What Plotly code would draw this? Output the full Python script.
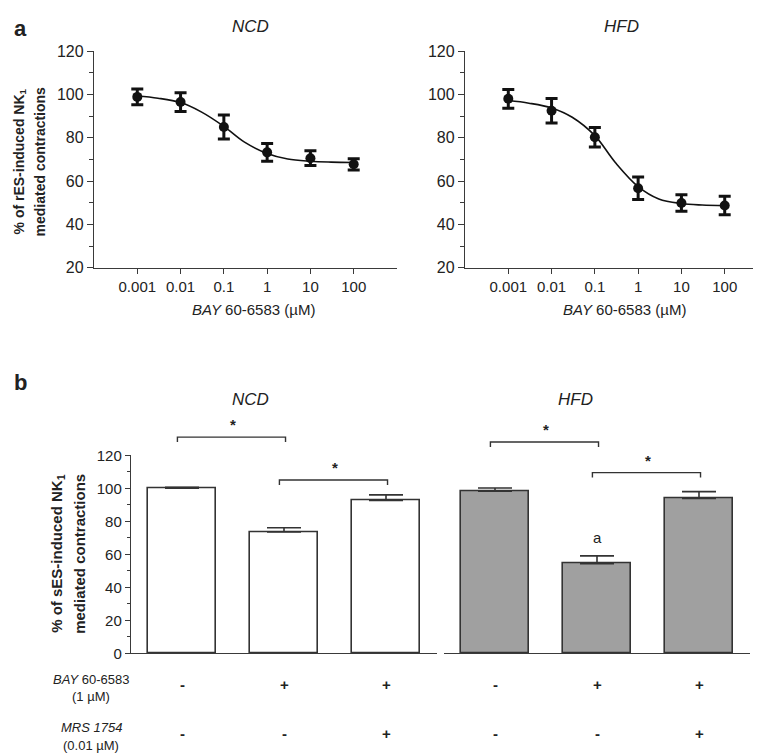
import plotly.graph_objects as go

W, H = 761, 753
FONT = "Liberation Sans, Arial, sans-serif"
TXT = "#222222"
AX = "#3a3a3a"

# ---------------- data ----------------
conc = [0.001, 0.01, 0.1, 1, 10, 100]
conc_labels = ["0.001", "0.01", "0.1", "1", "10", "100"]

ncd_mean = [98.9, 96.5, 85.0, 73.3, 70.6, 67.8]
ncd_err = [3.6, 4.3, 5.5, 4.1, 3.4, 2.6]
hfd_mean = [98.0, 92.5, 80.3, 56.7, 49.9, 48.8]
hfd_err = [4.3, 5.6, 4.5, 5.2, 3.8, 4.3]

# fitted curves
curve_x = [0.001, 0.003, 0.01, 0.03, 0.1, 0.3, 1, 3, 10, 30, 100]
ncd_curve = [99.3, 98.3, 96.3, 92.0, 85.3, 78.0, 72.8, 70.2, 69.2, 68.8, 68.6]
hfd_curve = [97.2, 96.0, 93.8, 89.5, 81.0, 68.5, 57.5, 51.8, 49.7, 49.0, 48.7]

groups = ["-/-", "+/-", "+/+"]
bar_ncd = [100.0, 73.5, 92.6]
bar_ncd_err = [0.6, 2.6, 3.4]
bar_hfd = [98.2, 54.3, 93.8]
bar_hfd_err = [2.0, 4.8, 4.2]
bay_signs = ["-", "+", "+"]
mrs_signs = ["-", "-", "+"]

# ---------------- helpers ----------------
def px_x(a, b):
    return [a / W, b / W]

def px_y(top, bottom):
    return [(H - bottom) / H, (H - top) / H]

fig = go.Figure()

# top panels
for i, (m, e, cy) in enumerate([(ncd_mean, ncd_err, ncd_curve), (hfd_mean, hfd_err, hfd_curve)]):
    xa = "x" if i == 0 else "x2"
    ya = "y" if i == 0 else "y2"
    fig.add_trace(go.Scatter(x=curve_x, y=cy, mode="lines", line=dict(color="#111111", width=1.6, shape="spline"),
                             xaxis=xa, yaxis=ya, showlegend=False, hoverinfo="skip"))
    fig.add_trace(go.Scatter(x=conc, y=m, mode="markers",
                             marker=dict(color="#111111", size=10),
                             error_y=dict(type="data", array=e, color="#111111", thickness=3, width=6),
                             xaxis=xa, yaxis=ya, showlegend=False))

# bottom panels
bx = [0, 1, 2]
fig.add_trace(go.Bar(x=bx, y=bar_ncd, width=0.66, marker=dict(color="white", line=dict(color="#333333", width=1.6)),
                     error_y=dict(type="data", symmetric=False, array=bar_ncd_err, arrayminus=[0, 0, 0],
                                  color="#333333", thickness=1.6, width=17),
                     xaxis="x3", yaxis="y3", showlegend=False))
fig.add_trace(go.Bar(x=bx, y=bar_hfd, width=0.66, marker=dict(color="#a0a0a0", line=dict(color="#333333", width=1.6)),
                     error_y=dict(type="data", symmetric=False, array=bar_hfd_err, arrayminus=[0, 0, 0],
                                  color="#333333", thickness=1.6, width=17),
                     xaxis="x4", yaxis="y4", showlegend=False))

tickfont = dict(family=FONT, size=16, color=TXT)
ylin = dict(range=[20, 120], tickvals=[20, 40, 60, 80, 100, 120], ticks="outside", ticklen=6, tickwidth=1.3,
            tickcolor=AX, showline=True, linecolor=AX, linewidth=1.4, showgrid=False, zeroline=False,
            tickfont=tickfont, minor=dict(tickvals=[30, 50, 70, 90, 110], ticks="outside", ticklen=4, tickcolor=AX))
xlog = dict(type="log", tickvals=conc, ticktext=conc_labels, ticks="outside", ticklen=5, tickwidth=1.3,
            tickcolor=AX, showline=True, linecolor=AX, linewidth=1.4, showgrid=False, zeroline=False,
            tickfont=dict(family=FONT, size=15, color=TXT))

top_y = px_y(35, 257)
bot_y = px_y(449, 652)

fig.update_layout(
    width=W, height=H, margin=dict(l=0, r=0, t=0, b=0),
    paper_bgcolor="white", plot_bgcolor="white",
    font=dict(family=FONT, color=TXT),
    xaxis=dict(xlog, domain=px_x(86, 389), range=[-4.0, 3.0], anchor="y"),
    yaxis=dict(ylin, domain=top_y, anchor="x"),
    xaxis2=dict(xlog, domain=px_x(457, 760), range=[-4.0, 3.0], anchor="y2"),
    yaxis2=dict(ylin, domain=top_y, anchor="x2"),
    xaxis3=dict(domain=px_x(123, 429), range=[-0.5, 2.5], showticklabels=False, ticks="", showline=True,
                linecolor=AX, linewidth=1.4, showgrid=False, zeroline=False, anchor="y3"),
    yaxis3=dict(domain=bot_y, range=[0, 120], tickvals=[0, 20, 40, 60, 80, 100, 120], ticks="outside", ticklen=5,
                tickwidth=1.3, tickcolor=AX, showline=True, linecolor=AX, linewidth=1.4, showgrid=False,
                zeroline=False, tickfont=dict(family=FONT, size=15, color=TXT), anchor="x3",
                minor=dict(tickvals=[10, 30, 50, 70, 90, 110], ticks="outside", ticklen=3, tickcolor=AX)),
    xaxis4=dict(domain=px_x(436, 742), range=[-0.5, 2.5], showticklabels=False, ticks="", showline=True,
                linecolor=AX, linewidth=1.4, showgrid=False, zeroline=False, anchor="y4"),
    yaxis4=dict(domain=bot_y, range=[0, 120], showticklabels=False, ticks="", showline=False, showgrid=False,
                zeroline=False, anchor="x4"),
    bargap=0,
)

ann = []
def A(text, x, y, size=15, xref="paper", yref="paper", bold=False, italic=False, angle=0, xanchor="center", yanchor="middle"):
    t = text
    if bold:
        t = "<b>" + t + "</b>"
    if italic:
        t = "<i>" + t + "</i>"
    ann.append(dict(text=t, x=x, y=y, xref=xref, yref=yref, showarrow=False, textangle=angle,
                    font=dict(family=FONT, size=size, color=TXT), xanchor=xanchor, yanchor=yanchor))

def P(xp, yp):
    return xp / W, (H - yp) / H

# panel letters and titles
A("a", *P(4, 12), size=22, bold=True, xanchor="left")
A("b", *P(4, 374), size=22, bold=True, xanchor="left")
A("NCD", *P(243, 10), size=17, italic=True)
A("HFD", *P(613, 10), size=17, italic=True)
A("NCD", *P(243, 392), size=17, italic=True)
A("HFD", *P(567, 392), size=17, italic=True)

# x-axis titles (top)
A("<i>BAY</i> 60-6583 (µM)", *P(245, 300), size=15)
A("<i>BAY</i> 60-6583 (µM)", *P(616, 300), size=15)

# y-axis titles
A("% of rES-induced NK<sub>1</sub>", *P(12, 148), size=14, bold=True, angle=-90)
A("mediated contractions", *P(32, 148), size=14, bold=True, angle=-90)
A("% of sES-induced NK<sub>1</sub>", *P(50, 550), size=15, bold=True, angle=-90)
A("mediated contractions", *P(72, 550), size=15, bold=True, angle=-90)

# treatment rows
A("<i>BAY</i> 60-6583", *P(83, 679), size=13)
A("(1 µM)", *P(83, 696), size=13)
A("<i>MRS 1754</i>", *P(83, 728), size=13)
A("(0.01 µM)", *P(83, 746), size=13)
for xa in ["x3", "x4"]:
    for i in range(3):
        A("<b>" + bay_signs[i] + "</b>", bx[i], (H - 684) / H, size=15, xref=xa)
        A("<b>" + mrs_signs[i] + "</b>", bx[i], (H - 734) / H, size=15, xref=xa)

# significance brackets: (x axis, y axis, from, to, level)
brackets = [("x3", "y3", 0, 1, 131), ("x3", "y3", 1, 2, 105), ("x4", "y4", 0, 1, 128), ("x4", "y4", 1, 2, 109.5)]
shapes = []
for xa, ya, i0, i1, lev in brackets:
    x0 = (bx[i0] + 0.5) / 3 - 0.015
    x1 = (bx[i1] + 0.5) / 3 + 0.005
    y = lev / 120
    d = 3 / 120
    shapes.append(dict(type="path", xref=xa + " domain", yref=ya + " domain",
                       path=f"M {x0} {y - d} L {x0} {y} L {x1} {y} L {x1} {y - d}",
                       line=dict(color="#333333", width=1.4)))
    A("*", ((bx[i0] + bx[i1]) / 2 + 0.5) / 3, (lev + 7.5) / 120, size=15,
      xref=xa + " domain", yref=ya + " domain", bold=True)
A("a", 1, 70, size=15, xref="x4", yref="y4")

fig.update_layout(annotations=ann, shapes=shapes)
fig.write_html("out.html")
